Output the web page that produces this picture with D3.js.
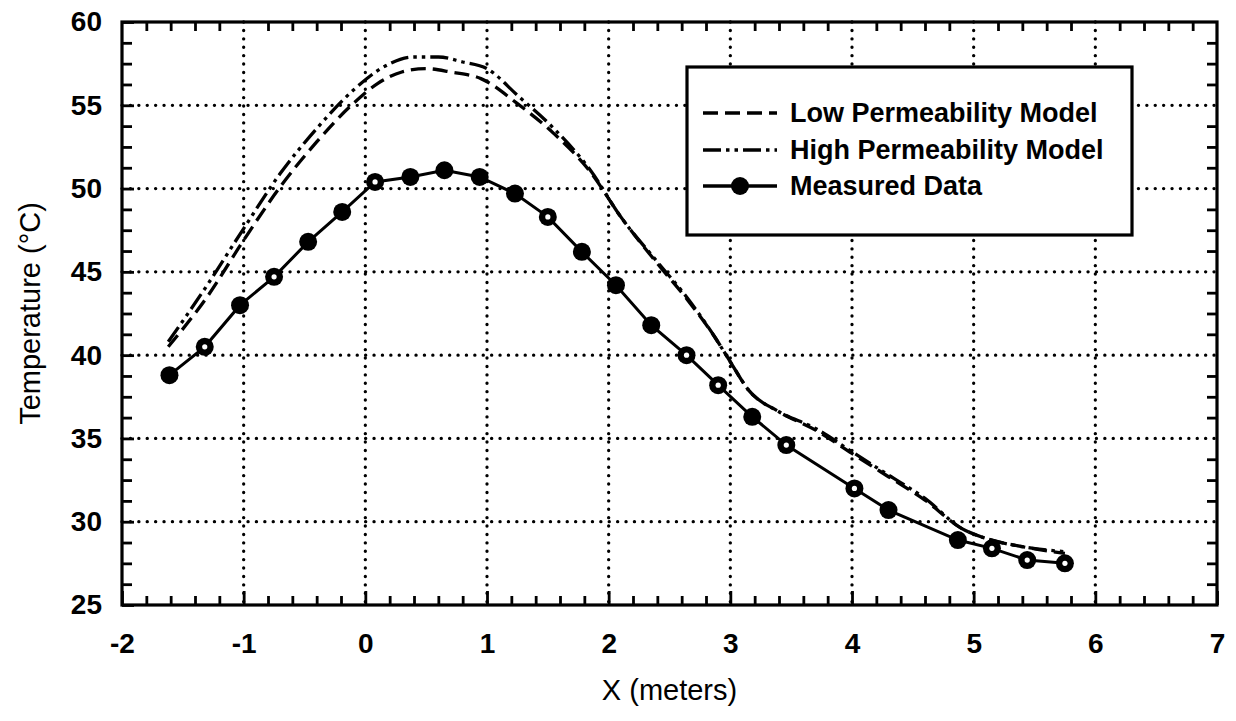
<!DOCTYPE html>
<html>
<head>
<meta charset="utf-8">
<script src="https://cdn.jsdelivr.net/npm/d3@7"></script>
<style>
  html, body { margin: 0; padding: 0; background: #fff; }
  svg { display: block; }
  text { font-family: "Liberation Sans", Arial, Helvetica, sans-serif; fill: #000; }
</style>
</head>
<body>
<svg id="chart" width="1236" height="721"></svg>
<script>
// Measured temperatures along the profile
const measuredX = [-1.61, -1.32, -1.03, -0.75, -0.47, -0.19, 0.08, 0.37, 0.65, 0.94, 1.23, 1.50, 1.78, 2.06, 2.35, 2.64, 2.90, 3.18, 3.46, 4.02, 4.30, 4.87, 5.15, 5.44, 5.75];
const measuredT = [38.8, 40.5, 43.0, 44.7, 46.8, 48.6, 50.4, 50.7, 51.1, 50.7, 49.7, 48.3, 46.2, 44.2, 41.8, 40.0, 38.2, 36.3, 34.6, 32.0, 30.7, 28.9, 28.4, 27.7, 27.5];

// Low permeability model curve
const lowX = [-1.62, -1.3, -1.0, -0.7, -0.4, -0.1, 0.1, 0.3, 0.5, 0.7, 0.95, 1.25, 1.55, 1.85, 2.1, 2.4, 2.65, 2.88, 3.0, 3.15, 3.4, 3.7, 4.0, 4.3, 4.6, 4.9, 5.1, 5.4, 5.75];
const lowT = [40.5, 43.5, 46.9, 50.1, 52.8, 55.1, 56.3, 57.0, 57.2, 57.0, 56.6, 55.1, 53.3, 51.0, 48.3, 45.5, 43.3, 41.0, 39.6, 37.9, 36.6, 35.5, 34.1, 32.7, 31.3, 29.6, 29.0, 28.5, 28.1];

// High permeability model curve
const highX = [-1.62, -1.3, -1.0, -0.7, -0.4, -0.1, 0.15, 0.4, 0.6, 0.8, 1.0, 1.25, 1.55, 1.85, 2.1, 2.4, 2.65, 2.88, 3.0, 3.15, 3.4, 3.7, 4.0, 4.3, 4.6, 4.9, 5.1, 5.4, 5.75];
const highT = [40.8, 44.2, 47.6, 50.9, 53.6, 55.9, 57.3, 57.9, 57.9, 57.6, 57.2, 55.6, 53.6, 51.1, 48.3, 45.6, 43.4, 41.0, 39.6, 37.9, 36.6, 35.6, 34.2, 32.8, 31.4, 29.6, 29.0, 28.5, 28.2];

// Axis ticks
const xTicks = [-2, -1, 0, 1, 2, 3, 4, 5, 6, 7];
const yTicks = [25, 30, 35, 40, 45, 50, 55, 60];
const xMinorStep = 0.2;
const yMinorStep = 1.25;

const legendLabels = ["Low Permeability Model", "High Permeability Model", "Measured Data"];
const xTitle = "X (meters)";
const yTitle = "Temperature (°C)";

const svg = d3.select("#chart");
const plotLeft = 122, plotRight = 1217, plotTop = 22, plotBottom = 605;

const x = d3.scaleLinear().domain([-2, 7]).range([plotLeft, plotRight]);
const y = d3.scaleLinear().domain([25, 60]).range([plotBottom, plotTop]);

const xMinor = d3.range(-2, 7.0001, xMinorStep).map(v => +v.toFixed(2)).filter(v => !xTicks.includes(v));
const yMinor = d3.range(25, 60.0001, yMinorStep).map(v => +v.toFixed(2)).filter(v => !yTicks.includes(v));
const plainNumber = d => String(d);

// Dotted grid at the major ticks
const grid = svg.append("g").attr("stroke", "#000").attr("stroke-width", 3.3)
  .attr("stroke-linecap", "round").attr("stroke-dasharray", "0.1,8.3");
grid.selectAll("line.v").data(xTicks.slice(1, -1)).join("line").attr("class", "v")
  .attr("x1", d => x(d)).attr("x2", d => x(d)).attr("y1", plotTop).attr("y2", plotBottom);
grid.selectAll("line.h").data(yTicks.slice(1, -1)).join("line").attr("class", "h")
  .attr("x1", plotLeft).attr("x2", plotRight).attr("y1", d => y(d)).attr("y2", d => y(d));

// Axes with inward ticks
function styleAxis(g) {
  g.select(".domain").remove();
  g.selectAll(".tick line").attr("stroke", "#000").attr("stroke-width", 2.8);
  g.selectAll(".tick text").attr("font-size", 28).attr("font-weight", "bold")
    .attr("font-family", "'Liberation Sans', Arial, sans-serif");
}
svg.append("g").attr("transform", `translate(0,${plotBottom})`)
  .call(d3.axisBottom(x).tickValues(xTicks).tickFormat(plainNumber).tickSize(-14).tickPadding(28))
  .call(styleAxis);
svg.append("g").attr("transform", `translate(0,${plotBottom})`)
  .call(d3.axisBottom(x).tickValues(xMinor).tickFormat("").tickSize(-9)).call(styleAxis);
svg.append("g").attr("transform", `translate(0,${plotTop})`)
  .call(d3.axisTop(x).tickValues(xMinor).tickFormat("").tickSize(-9)).call(styleAxis);
svg.append("g").attr("transform", `translate(${plotLeft},0)`)
  .call(d3.axisLeft(y).tickValues(yTicks).tickFormat(plainNumber).tickSize(-12).tickPadding(20))
  .call(styleAxis);
svg.append("g").attr("transform", `translate(${plotLeft},0)`)
  .call(d3.axisLeft(y).tickValues(yMinor).tickFormat("").tickSize(-10)).call(styleAxis);
svg.append("g").attr("transform", `translate(${plotRight},0)`)
  .call(d3.axisRight(y).tickValues(yMinor).tickFormat("").tickSize(-10)).call(styleAxis);

// Plot frame
svg.append("rect").attr("x", plotLeft).attr("y", plotTop)
  .attr("width", plotRight - plotLeft).attr("height", plotBottom - plotTop)
  .attr("fill", "none").attr("stroke", "#000").attr("stroke-width", 3.2);

// Model curves
const curveLine = d3.line().x(d => x(d[0])).y(d => y(d[1])).curve(d3.curveMonotoneX);
const lowDash = "15,7";
const highDash = "18,5,3.5,5,3.5,5";
svg.append("path").datum(d3.zip(lowX, lowT)).attr("d", curveLine)
  .attr("fill", "none").attr("stroke", "#000").attr("stroke-width", 3.3).attr("stroke-dasharray", lowDash);
svg.append("path").datum(d3.zip(highX, highT)).attr("d", curveLine)
  .attr("fill", "none").attr("stroke", "#000").attr("stroke-width", 3.3).attr("stroke-dasharray", highDash);

// Measured series
const measured = d3.zip(measuredX, measuredT);
const straight = d3.line().x(d => x(d[0])).y(d => y(d[1]));
svg.append("path").datum(measured).attr("d", straight)
  .attr("fill", "none").attr("stroke", "#000").attr("stroke-width", 3);
const openCentre = new Set([1, 3, 6, 11, 15, 16, 18, 19, 22, 23, 24]);
svg.append("g").selectAll("circle").data(measured).join("circle")
  .attr("cx", d => x(d[0])).attr("cy", d => y(d[1])).attr("r", 9).attr("fill", "#000");
svg.append("g").selectAll("circle").data(measured.filter((d, i) => openCentre.has(i))).join("circle")
  .attr("cx", d => x(d[0])).attr("cy", d => y(d[1])).attr("r", 2.6).attr("fill", "#fff");

// Legend
const lg = svg.append("g");
lg.append("rect").attr("x", 687).attr("y", 67).attr("width", 445).attr("height", 168)
  .attr("fill", "#fff").attr("stroke", "#000").attr("stroke-width", 3.2);
const rowY = [113, 150, 186];
const dashes = [lowDash, highDash, null];
rowY.forEach((ry, i) => {
  lg.append("line").attr("x1", 703).attr("x2", 777).attr("y1", ry).attr("y2", ry)
    .attr("stroke", "#000").attr("stroke-width", 3.3)
    .attr("stroke-dasharray", dashes[i]);
  if (i === 2) lg.append("circle").attr("cx", 740).attr("cy", ry).attr("r", 9).attr("fill", "#000");
  lg.append("text").attr("x", 790).attr("y", ry).attr("dy", "0.35em")
    .attr("font-size", 27).attr("font-weight", "bold").text(legendLabels[i]);
});

// Axis titles
svg.append("text").attr("x", (plotLeft + plotRight) / 2).attr("y", 690).attr("dy", "0.35em")
  .attr("text-anchor", "middle").attr("font-size", 29).text(xTitle);
svg.append("text").attr("transform", `translate(30,${(plotTop + plotBottom) / 2}) rotate(-90)`)
  .attr("dy", "0.35em").attr("text-anchor", "middle").attr("font-size", 29).text(yTitle);
</script>
</body>
</html>
